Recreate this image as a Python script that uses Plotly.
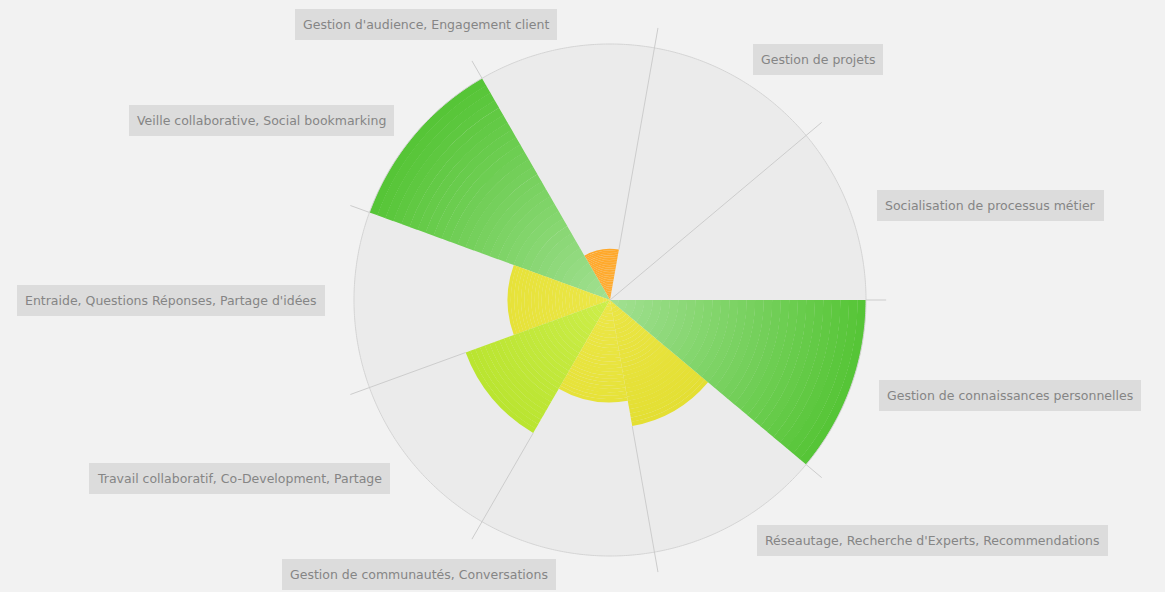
import plotly.graph_objects as go

# ---- data ----
categories = [
    "Socialisation de processus métier",
    "Gestion de projets",
    "Gestion d'audience, Engagement client",
    "Veille collaborative, Social bookmarking",
    "Entraide, Questions Réponses, Partage d'idées",
    "Travail collaboratif, Co-Development, Partage",
    "Gestion de communautés, Conversations",
    "Réseautage, Recherche d'Experts, Recommendations",
    "Gestion de connaissances personnelles",
]
values = [0, 0, 20, 100, 40, 60, 40, 50, 100]
max_value = 100
sector_angles = [20, 60, 100, 140, 180, 220, 260, 300, 340]
boundary_angles = [0, 40, 80, 120, 160, 200, 240, 280, 320]

# ---- style ----
W, H = 1165, 592
CX, CY, R = 610, 300, 256
EXT = 1.08  # spokes stick out beyond the outer circle
inner_colors = ["#a8e29a", "#a8e29a", "#ffad33", "#a2e092", "#ece748", "#cdee4a", "#ece748", "#ebe645", "#a2e092"]
outer_colors = ["#55c535", "#55c535", "#ff9200", "#55c535", "#dedb22", "#acde1e", "#dedb22", "#dcd820", "#55c535"]
label_pos = [(990, 205), (818, 59), (426, 25), (261, 120), (171, 300),
             (239, 478), (419, 574), (932, 540), (1010, 395)]
N = 30


def hex2rgb(h):
    h = h.lstrip("#")
    return tuple(int(h[i:i + 2], 16) for i in (0, 2, 4))


def mix(c1, c2, t):
    a, b = hex2rgb(c1), hex2rgb(c2)
    return "rgb(%d,%d,%d)" % tuple(round(a[i] + (b[i] - a[i]) * t) for i in range(3))


fig = go.Figure()

# gray background wedges (full scale)
fig.add_trace(go.Barpolar(
    theta=sector_angles, r=[max_value] * len(sector_angles), width=[40] * len(sector_angles),
    marker=dict(color="#ebebeb", line=dict(width=0)),
    hoverinfo="skip", showlegend=False,
))

# colored bars drawn as radial gradient segments
seg_theta, seg_r, seg_base, seg_col = [], [], [], []
for th, v, ci, co in zip(sector_angles, values, inner_colors, outer_colors):
    if v <= 0:
        continue
    step = v / N
    for k in range(N):
        b = step * k
        seg_theta.append(th)
        seg_base.append(b)
        seg_r.append(step * 1.03 if k < N - 1 else step)
        seg_col.append(mix(ci, co, (b + step / 2) / max_value))

fig.add_trace(go.Barpolar(
    theta=seg_theta, r=seg_r, base=seg_base, width=[40] * len(seg_theta),
    marker=dict(color=seg_col, line=dict(width=0)),
    hoverinfo="skip", showlegend=False,
))

# outer circle
circ_theta = [i * 0.5 for i in range(721)]
fig.add_trace(go.Scatterpolar(
    theta=circ_theta, r=[max_value] * len(circ_theta), mode="lines",
    line=dict(color="#d4d4d4", width=1), hoverinfo="skip", showlegend=False,
))

# spokes: visible from the taller adjacent bar outward
for i, a in enumerate(boundary_angles):
    start = max(values[i], values[i - 1])
    fig.add_trace(go.Scatterpolar(
        theta=[a, a], r=[start, max_value * EXT], mode="lines",
        line=dict(color="#cccccc", width=1),
        hoverinfo="skip", showlegend=False,
    ))

RR = R * EXT
fig.update_layout(
    width=W, height=H,
    margin=dict(l=0, r=0, t=0, b=0),
    paper_bgcolor="#f2f2f2",
    showlegend=False,
    polar=dict(
        domain=dict(x=[(CX - RR) / W, (CX + RR) / W], y=[(H - CY - RR) / H, (H - CY + RR) / H]),
        bgcolor="rgba(0,0,0,0)",
        barmode="overlay",
        radialaxis=dict(visible=False, range=[0, max_value * EXT]),
        angularaxis=dict(
            rotation=0, direction="counterclockwise",
            showticklabels=False, ticks="", showgrid=False, showline=False,
        ),
    ),
)

for name, (px, py) in zip(categories, label_pos):
    fig.add_annotation(
        x=px / W, y=1 - py / H, xref="paper", yref="paper",
        text=name, showarrow=False, xanchor="center", yanchor="middle",
        bgcolor="#dcdcdc", bordercolor="#dcdcdc", borderwidth=1, borderpad=7,
        font=dict(family="DejaVu Sans", size=12.5, color="#858585"),
    )

fig.write_html("out.html", config={"displayModeBar": False},
               post_script="document.body.style.margin='0';")
